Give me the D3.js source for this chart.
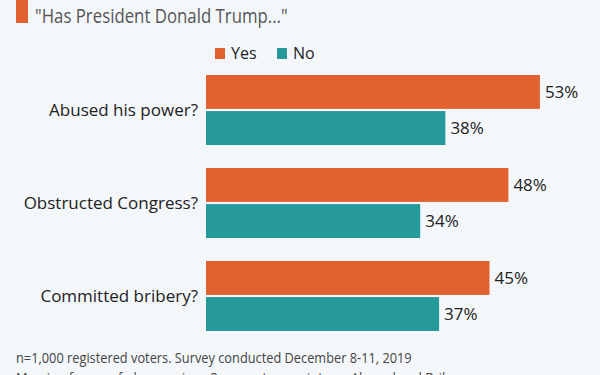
<!DOCTYPE html>
<html>
<head>
<meta charset="utf-8">
<script src="https://cdn.jsdelivr.net/npm/d3@7"></script>
<style>
  body { margin: 0; background: #f4f7fa; }
  svg { display: block; font-family: "Open Sans", sans-serif; }
</style>
</head>
<body>
<div id="chart"></div>
<script>
// chart data
const questions = ["Abused his power?", "Obstructed Congress?", "Committed bribery?"];
const answers = ["Yes", "No"];
const yesValues = [53, 48, 45];
const noValues = [38, 34, 37];
const answerColors = ["#e2622f", "#26999a"];

const width = 600, height = 375;
const margins = { top: 75, bottom: 44, left: 206, right: 20 };

const svg = d3.select("#chart").append("svg")
  .attr("width", width)
  .attr("height", height);

svg.append("rect").attr("width", width).attr("height", height).attr("fill", "#f4f7fa");

// title with the orange marker
svg.append("rect")
  .attr("x", 16).attr("y", 0)
  .attr("width", 12).attr("height", 23)
  .attr("fill", answerColors[0]);

svg.append("text")
  .attr("transform", "translate(35,23) scale(1,1.2)")
  .style("font-size", "16.8px")
  .attr("fill", "#555")
  .text("\"Has President Donald Trump...\"");

// legend
const legendX = [215, 277];
const legend = svg.selectAll(".legend")
  .data(answers)
  .join("g")
  .attr("class", "legend")
  .attr("transform", (d, i) => `translate(${legendX[i]},48)`);

legend.append("rect")
  .attr("width", 10).attr("height", 11)
  .attr("fill", (d, i) => answerColors[i]);

legend.append("text")
  .attr("x", 16).attr("y", 11)
  .style("font-size", "16px")
  .attr("fill", "#222")
  .text(d => d);

// scales
const data = questions.map((q, i) => ({ question: q, values: [yesValues[i], noValues[i]] }));

const yScale = d3.scaleBand()
  .domain(questions)
  .range([margins.top, margins.top + 93 * 2 + 70])
  .paddingInner(23 / 93)
  .paddingOuter(0);

const subScale = d3.scaleBand()
  .domain(answers)
  .range([0, yScale.bandwidth()])
  .paddingInner(0.06);

const xScale = d3.scaleLinear()
  .domain([0, 100])
  .range([margins.left, margins.left + 630]);

const groups = svg.selectAll(".group")
  .data(data)
  .join("g")
  .attr("class", "group")
  .attr("transform", d => `translate(0,${yScale(d.question)})`);

groups.append("text")
  .attr("x", margins.left - 8)
  .attr("y", yScale.bandwidth() / 2)
  .attr("dy", "0.35em")
  .attr("text-anchor", "end")
  .style("font-size", "17px")
  .attr("fill", "#222")
  .text(d => d.question);

const bars = groups.selectAll(".bar")
  .data(d => d.values.map((v, i) => ({ answer: answers[i], value: v, idx: i })))
  .join("g")
  .attr("class", "bar");

bars.append("rect")
  .attr("x", xScale(0))
  .attr("y", d => subScale(d.answer))
  .attr("width", d => xScale(d.value) - xScale(0))
  .attr("height", subScale.bandwidth())
  .attr("fill", d => answerColors[d.idx]);

bars.append("text")
  .attr("x", d => xScale(d.value) + 5)
  .attr("y", d => subScale(d.answer) + subScale.bandwidth() / 2)
  .attr("dy", "0.35em")
  .style("font-size", "17px")
  .attr("fill", "#222")
  .text(d => d.value + "%");

// footer notes
svg.append("text")
  .attr("transform", "translate(16,363) scale(1,1.12)")
  .style("font-size", "12.8px")
  .attr("fill", "#444")
  .text("n=1,000 registered voters. Survey conducted December 8-11, 2019");

svg.append("text")
  .attr("transform", "translate(16,383) scale(1,1.12)")
  .style("font-size", "12.8px")
  .attr("fill", "#444")
  .text("Margin of error of plus or minus 3 percentage points on Abused and Bribery ...");
</script>
</body>
</html>
